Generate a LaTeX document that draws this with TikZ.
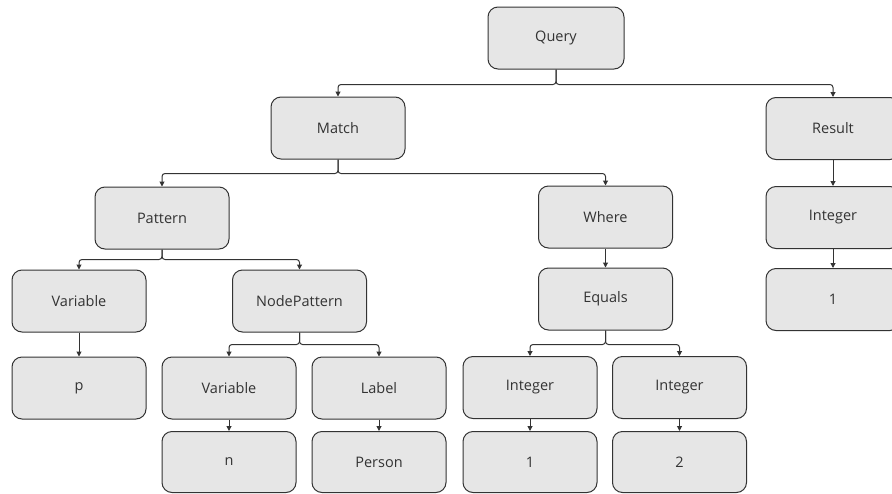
\documentclass[tikz,border=0pt]{standalone}
\usepackage{fontspec}
\setmainfont{Open Sans}
\usetikzlibrary{arrows.meta}
\definecolor{boxfill}{HTML}{E6E6E6}
\definecolor{ink}{HTML}{333333}
\tikzset{
  astnode/.style={draw=ink, fill=boxfill, line width=1pt, rounded corners=10pt,
    minimum width=134pt, minimum height=62pt, inner sep=0pt, text=ink,
    font=\fontsize{14.5}{17}\selectfont},
  conn/.style={draw=ink, line width=1pt, rounded corners=3pt,
    -{Triangle[length=5pt,width=5pt]}},
}
\begin{document}
\begin{tikzpicture}[x=1pt, y=-1pt]
  \clip (0,0) rectangle (892,493);
  % level 0
  \node[astnode, minimum width=136pt] (query) at (556,38) {Query};
  % level 1
  \node[astnode] (match)  at (338,128) {Match};
  \node[astnode] (result) at (833,128.5) {Result};
  % level 2
  \node[astnode] (pattern) at (162,218) {Pattern};
  \node[astnode] (where)   at (605.5,217) {Where};
  \node[astnode] (resint)  at (833,217.5) {Integer};
  % level 3
  \node[astnode] (var)     at (79,301) {Variable};
  \node[astnode] (nodepat) at (299.5,301) {NodePattern};
  \node[astnode] (equals)  at (605.5,299) {Equals};
  \node[astnode] (resone)  at (833,299.5) {1};
  % level 4
  \node[astnode] (pvar)   at (79,388) {p};
  \node[astnode] (var2)   at (229,388) {Variable};
  \node[astnode] (label)  at (379,388) {Label};
  \node[astnode] (int3)   at (530,387.5) {Integer};
  \node[astnode] (int4)   at (679.5,387.5) {Integer};
  % level 5
  \node[astnode, minimum height=61pt] (nvar)   at (229,462) {n};
  \node[astnode, minimum height=61pt] (person) at (379,462) {Person};
  \node[astnode, minimum height=61pt] (one)    at (530,462) {1};
  \node[astnode, minimum height=61pt] (two)    at (679.5,462) {2};

  % branching connectors
  \draw[conn] (query.south) -- ++(0,15) -| (match.north);
  \draw[conn] (query.south) -- ++(0,15) -| (result.north);
  \draw[conn] (match.south) -- ++(0,14) -| (pattern.north);
  \draw[conn] (match.south) -- ++(0,14) -| (where.north);
  \draw[conn] (pattern.south) -- ++(0,10) -| (var.north);
  \draw[conn] (pattern.south) -- ++(0,10) -| (nodepat.north);
  \draw[conn] (nodepat.south) -- ++(0,12) -| (var2.north);
  \draw[conn] (nodepat.south) -- ++(0,12) -| (label.north);
  \draw[conn] (equals.south) -- ++(0,14) -| (int3.north);
  \draw[conn] (equals.south) -- ++(0,14) -| (int4.north);

  % straight connectors
  \draw[conn] (var.south) -- (pvar.north);
  \draw[conn] (result.south) -- (resint.north);
  \draw[conn] (resint.south) -- (resone.north);
  \draw[conn] (where.south) -- (equals.north);
  \draw[conn] (var2.south) -- (nvar.north);
  \draw[conn] (label.south) -- (person.north);
  \draw[conn] (int3.south) -- (one.north);
  \draw[conn] (int4.south) -- (two.north);
\end{tikzpicture}
\end{document}
